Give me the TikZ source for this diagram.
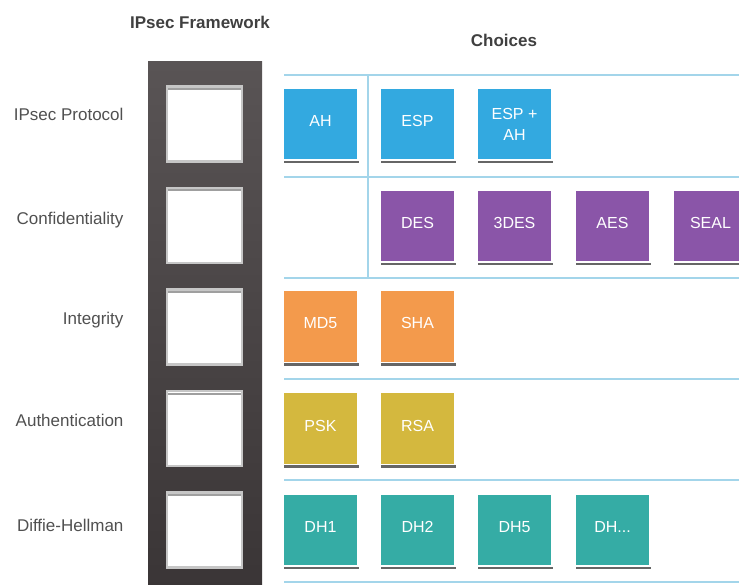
\documentclass[tikz,border=0pt]{standalone}
\usepackage{fontspec}
\setmainfont{Liberation Sans}
\usetikzlibrary{shadows}

\definecolor{protoblue}{HTML}{33A9E0}
\definecolor{confpurple}{HTML}{8A55A8}
\definecolor{integorange}{HTML}{F39A4C}
\definecolor{authyellow}{HTML}{D4B83E}
\definecolor{dhteal}{HTML}{35ACA5}
\definecolor{rulecol}{HTML}{A3D5EA}
\definecolor{frametop}{HTML}{595455}
\definecolor{framebot}{HTML}{3A3536}
\definecolor{labelgray}{HTML}{505050}

\tikzset{
  choice/.style={draw=white, line width=1.2pt, inner sep=0pt,
    minimum width=75pt, minimum height=72pt, text=white,
    text height=12pt, text depth=7pt, font=\fontsize{16}{21}\selectfont,
    drop shadow={shadow xshift=0.5pt, shadow yshift=-3pt, opacity=0.75, fill=black!80}},
  slot/.style={fill=white, draw=gray!45, line width=2.5pt, minimum size=75pt, inner sep=0pt,
    path picture={\draw[gray!75, line width=2pt]
      ([xshift=1pt,yshift=-2.5pt]path picture bounding box.north west) --
      ([xshift=-1pt,yshift=-2.5pt]path picture bounding box.north east);}},
  rowlabel/.style={anchor=east, text=labelgray, font=\fontsize{17}{20}\selectfont},
  heading/.style={text=black!75, font=\bfseries\fontsize{17}{20}\selectfont},
  gridline/.style={draw=rulecol, line width=2.5pt}
}

\begin{document}
\begin{tikzpicture}[x=1pt,y=-1pt]
	\useasboundingbox (0,0) rectangle (739,585);

	\node[heading] (fwtitle) at (200,22) {IPsec Framework};
	\node[heading] (choicetitle) at (504,40) {Choices};

	\shade[top color=frametop, bottom color=framebot] (148,62) rectangle (262,590);

	\node[slot] (sproto) at (204.5,124) {};
	\node[slot] (sconf) at (204.5,225.5) {};
	\node[slot] (sinteg) at (204.5,327) {};
	\node[slot] (sauth) at (204.5,428.5) {};
	\node[slot] (sdh) at (204.5,530) {};

	\node[rowlabel] (lproto) at (127,114) {IPsec Protocol};
	\node[rowlabel] (lconf) at (127,220) {Confidentiality};
	\node[rowlabel] (linteg) at (127,320) {Integrity};
	\node[rowlabel] (lauth) at (127,420) {Authentication};
	\node[rowlabel] (ldh) at (127,525) {Diffie-Hellman};

	\draw[gridline] (284,75) -- (739,75);
	\draw[gridline] (284,177) -- (739,177);
	\draw[gridline] (284,278) -- (739,278);
	\draw[gridline] (284,379) -- (739,379);
	\draw[gridline] (284,480) -- (739,480);
	\draw[gridline] (284,582) -- (739,582);
	\draw[gridline] (368,75) -- (368,278);

	\begin{scope}[every node/.style={choice, fill=protoblue}]
	    \node (ah) at (320.5,124) {AH};
	    \node (esp) at (417.5,124) {ESP};
	    \node[align=center, text height=, text depth=] (espah) at (514.5,124) {ESP +\\AH};
	\end{scope}

	\begin{scope}[every node/.style={choice, fill=confpurple}]
	    \node (des) at (417.5,226) {DES};
	    \node (tdes) at (514.5,226) {3DES};
	    \node (aes) at (612.5,226) {AES};
	    \node (seal) at (710.5,226) {SEAL};
	\end{scope}

	\begin{scope}[every node/.style={choice, fill=integorange}]
	    \node (md) at (320.5,326.5) {MD5};
	    \node (sha) at (417.5,326.5) {SHA};
	\end{scope}

	\begin{scope}[every node/.style={choice, fill=authyellow}]
	    \node (psk) at (320.5,428.5) {PSK};
	    \node (rsa) at (417.5,428.5) {RSA};
	\end{scope}

	\begin{scope}[every node/.style={choice, fill=dhteal}]
	    \node (dha) at (320.5,530) {DH1};
	    \node (dhb) at (417.5,530) {DH2};
	    \node (dhc) at (514.5,530) {DH5};
	    \node (dhd) at (612.5,530) {DH...};
	\end{scope}
\end{tikzpicture}
\end{document}
